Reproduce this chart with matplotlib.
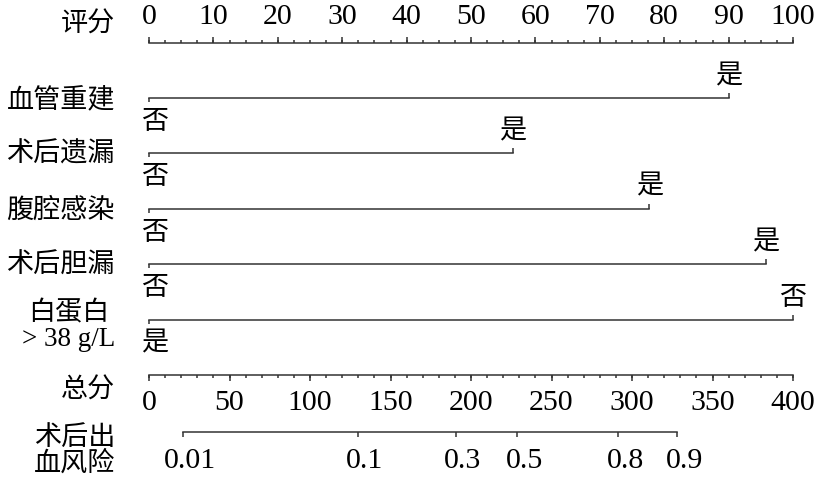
import numpy as np
import matplotlib
matplotlib.use('Agg')
import matplotlib.pyplot as plt

plt.rcParams['font.family'] = ['Liberation Serif', 'Noto Sans CJK SC']

# ---------------- data ----------------
point_ticks = list(range(0, 101, 10))
point_minor = list(np.arange(0, 100.01, 2.5))
total_ticks = list(range(0, 401, 50))
total_minor = list(range(0, 401, 10))
risk_ticks = [0.01, 0.1, 0.3, 0.5, 0.8, 0.9]
risk_labels = ['0.01', '0.1', '0.3', '0.5', '0.8', '0.9']
variables = ['血管重建', '术后遗漏', '腹腔感染', '术后胆漏', '白蛋白\n> 38 g/L']
var_points = [90.0, 56.5, 77.7, 95.8, 100.0]
left_levels = ['否', '否', '否', '否', '是']
right_levels = ['是', '是', '是', '是', '否']
total_max = 400
lp_center_points = 228.8      # total points where risk = 0.5
points_per_logit = 45.15      # total points per unit of log-odds

# ---------------- layout ----------------
PX = 6.44                      # pixels per point unit (top scale)
X0 = 149                       # pixel of 0 point
fig = plt.figure(figsize=(8.3, 4.8), dpi=100)
ax = fig.add_axes([0, 0, 1, 1])
ax.set_xlim(-X0 / PX, (830 - X0) / PX)
ax.set_ylim(480, 0)
ax.axis('off')

col = '#333333'
lw = 1.1
fs_num = 21.5
fs_cjk = 19.5
lab_x = (115 - X0) / PX

y_top = 43
rows_y = [98, 153, 208.7, 264, 319.7]
y_total = 375
y_risk = 432

# top points scale
ax.plot([0, 100], [y_top, y_top], color=col, lw=lw)
ax.vlines(point_minor, y_top - 3, y_top, color=col, lw=lw)
ax.vlines(point_ticks, y_top - 6, y_top, color=col, lw=lw)
for t in point_ticks:
    ax.text(t, 24, str(t), ha='center', va='baseline', fontsize=fs_num)
ax.text(lab_x, 25, '评分', ha='right', va='center', fontsize=fs_cjk)

# variable lines
for name, pts, ll, rl, y in zip(variables, var_points, left_levels, right_levels, rows_y):
    ax.plot([0, pts], [y, y], color=col, lw=lw)
    ax.vlines([0], y, y + 4, color=col, lw=lw)
    ax.vlines([pts], y - 5, y, color=col, lw=lw)
    ax.text(pts, y - 9, rl, ha='center', va='bottom', fontsize=fs_cjk)
    ax.text(0.9, y + 12, ll, ha='center', va='top', fontsize=fs_cjk)
    if '\n' in name:
        ax.text(lab_x, y + 7, name, ha='right', va='center', fontsize=fs_cjk,
                multialignment='center', linespacing=1.0)
    else:
        ax.text(lab_x, y + 2, name, ha='right', va='center', fontsize=fs_cjk)

# total points scale
sc = 100 / total_max
ax.plot([0, total_max * sc], [y_total, y_total], color=col, lw=lw)
ax.vlines([t * sc for t in total_minor], y_total, y_total + 3, color=col, lw=lw)
ax.vlines([t * sc for t in total_ticks], y_total, y_total + 6, color=col, lw=lw)
for t in total_ticks:
    ax.text(t * sc, 410, str(t), ha='center', va='baseline', fontsize=fs_num)
ax.text(lab_x, 391, '总分', ha='right', va='center', fontsize=fs_cjk)

# risk scale
logits = np.log(np.array(risk_ticks) / (1 - np.array(risk_ticks)))
risk_pos = (lp_center_points + logits * points_per_logit) * sc
ax.plot([risk_pos[0], risk_pos[-1]], [y_risk, y_risk], color=col, lw=lw)
ax.vlines(risk_pos, y_risk, y_risk + 5, color=col, lw=lw)
for p, lab in zip(risk_pos, risk_labels):
    ax.text(p + 1.1, 468, lab, ha='center', va='baseline', fontsize=fs_num)
ax.text(lab_x, 451, '术后出\n血风险', ha='right', va='center', fontsize=fs_cjk,
        linespacing=1.0)

fig.savefig('out.png', dpi=100, facecolor='white')
